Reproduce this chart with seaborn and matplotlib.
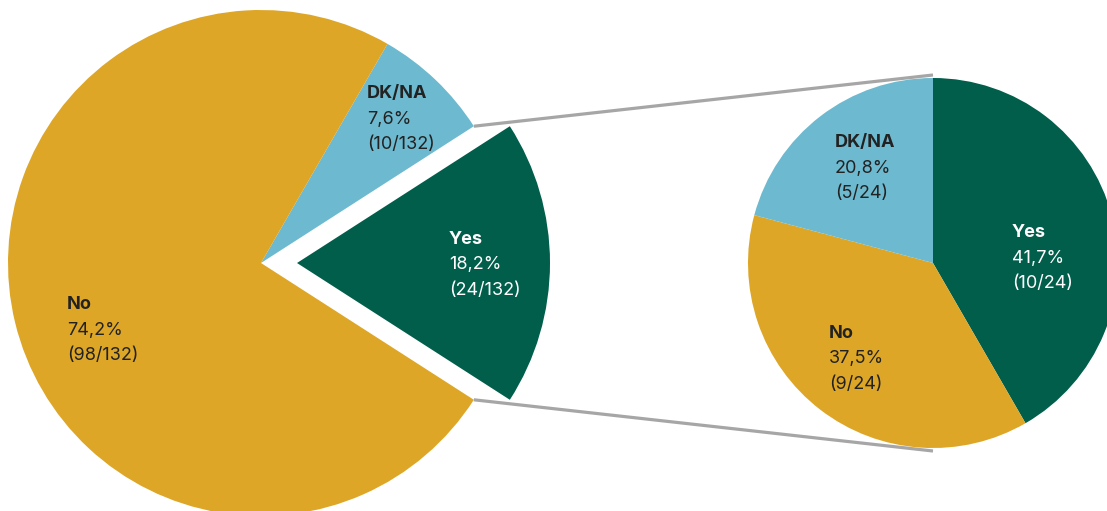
import numpy as np
import seaborn as sns
import matplotlib.pyplot as plt

# left pie: all answers
left_labels = ["Yes", "DK/NA", "No"]
left_counts = [24, 10, 98]
# right pie: breakdown of "Yes"
right_labels = ["Yes", "No", "DK/NA"]
right_counts = [10, 9, 5]

colors = {"Yes": "#005E4B", "DK/NA": "#6DB9CF", "No": "#DEA627"}
text_colors = {"Yes": "white", "DK/NA": "#222222", "No": "#222222"}

sns.set_theme(style="white")
plt.rcParams['font.family'] = ['Inter', 'DejaVu Sans']

W, H = 1107, 511
fig = plt.figure(figsize=(W / 100, H / 100), dpi=100)
ax = fig.add_axes([0, 0, 1, 1])

def py(y):
    return H - y

# left pie (explode is in data units here)
lc = (261, py(263))
lr = 253
ltot = sum(left_counts)
yes_deg = left_counts[0] / ltot * 360
ax.pie(left_counts, colors=[colors[l] for l in left_labels], center=lc, radius=lr,
       startangle=-yes_deg / 2, explode=[36, 0, 0], frame=True,
       wedgeprops=dict(linewidth=0))

# right pie
rc = (933, py(263))
rr = 185
rtot = sum(right_counts)
ax.pie(right_counts, colors=[colors[l] for l in right_labels], center=rc, radius=rr,
       startangle=90, counterclock=False, frame=True,
       wedgeprops=dict(linewidth=0))
ax.set_xlim(0, W)
ax.set_ylim(0, H)
ax.set_aspect('equal')
ax.axis('off')

# connector lines
a = np.deg2rad(yes_deg / 2)
for s in (1, -1):
    x0 = lc[0] + lr * np.cos(a)
    y0 = lc[1] + s * lr * np.sin(a)
    ax.plot([x0, rc[0]], [y0, rc[1] + s * (rr + 3)], color="#A6A6A6", lw=2.3,
            solid_capstyle='butt', zorder=0.5)

def label(x, ybase, name, count, total):
    pct = f"{count / total * 100:.1f}".replace('.', ',') + "%"
    c = text_colors[name]
    ax.text(x, py(ybase), name, fontsize=13, fontweight='bold', color=c, va='baseline', ha='left')
    ax.text(x, py(ybase + 25.5), pct, fontsize=13, color=c, va='baseline', ha='left')
    ax.text(x, py(ybase + 51), f"({count}/{total})", fontsize=13, color=c, va='baseline', ha='left')

label(367, 98, "DK/NA", left_counts[1], ltot)
label(449, 244, "Yes", left_counts[0], ltot)
label(67, 309, "No", left_counts[2], ltot)
label(835, 147, "DK/NA", right_counts[2], rtot)
label(1012, 237, "Yes", right_counts[0], rtot)
label(829, 338, "No", right_counts[1], rtot)

fig.savefig("out.png", dpi=100)
